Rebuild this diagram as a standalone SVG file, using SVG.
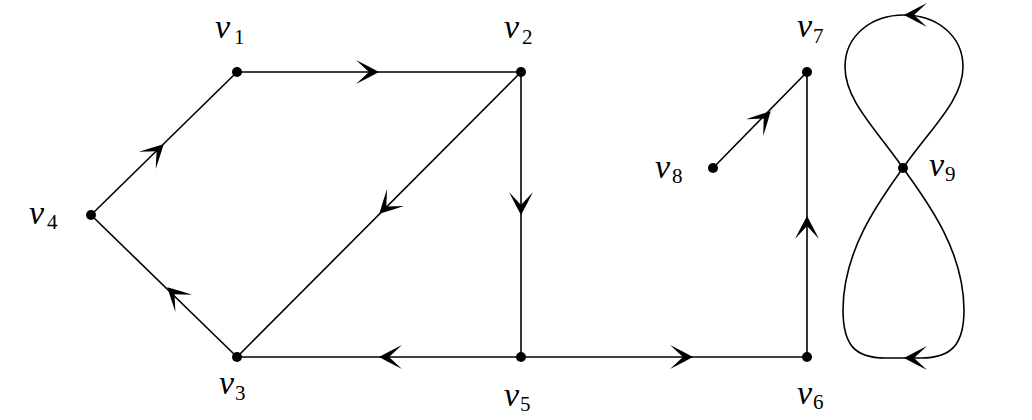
<svg xmlns="http://www.w3.org/2000/svg" xmlns:xlink="http://www.w3.org/1999/xlink" width="1032" height="420" viewBox="0 0 1032 420">
<style>
.e{fill:none;stroke:#000;stroke-width:1.6}
.dot{fill:#000}
.lbl{font-family:"Liberation Serif","Times New Roman",serif;font-style:italic;font-size:34px;fill:#000}
.sub{font-style:normal;font-size:21px}
</style>
<defs>
<path id="ah" d="M1,0 Q-10,-6 -22,-12 L-9,0 L-22,12 Q-10,6 1,0 Z" fill="#000"/>
</defs>
<rect width="1032" height="420" fill="#fff"/>
<g id="connectors">
<path class="e" d="M237,72 L521,72"/>
<path class="e" d="M521,72 L521,357"/>
<path class="e" d="M521,72 L237,357"/>
<path class="e" d="M521,357 L237,357"/>
<path class="e" d="M521,357 L807,357"/>
<path class="e" d="M807,357 L807,72"/>
<path class="e" d="M713,168 L807,72"/>
<path class="e" d="M91,215 L237,72"/>
<path class="e" d="M237,357 L91,215"/>
<path class="e" d="M903,168 C931,128 963,100 963,67 C963,35 936,15 904,15 C872,15 845,35 845,67 C845,100 875,128 903,168"/>
<path class="e" d="M903,168 C926,200 964,250 964,310 C964,345 951,358 921,358 L885,358 C855,358 843,345 843,310 C843,250 880,200 903,168"/>
<use xlink:href="#ah" transform="translate(378,72)"/>
<use xlink:href="#ah" transform="translate(521,214) rotate(90)"/>
<use xlink:href="#ah" transform="translate(380,213) rotate(134.9)"/>
<use xlink:href="#ah" transform="translate(380,357) rotate(180)"/>
<use xlink:href="#ah" transform="translate(692,357)"/>
<use xlink:href="#ah" transform="translate(807,217) rotate(-90)"/>
<use xlink:href="#ah" transform="translate(770,112) rotate(-45.6)"/>
<use xlink:href="#ah" transform="translate(163,145) rotate(-44.4)"/>
<use xlink:href="#ah" transform="translate(168,288) rotate(-135.8)"/>
<use xlink:href="#ah" transform="translate(905,15) rotate(180)"/>
<use xlink:href="#ah" transform="translate(905,358) rotate(180)"/>
</g>
<g id="v1"><circle class="dot" cx="237" cy="72" r="5"/><text class="lbl" x="215" y="38">v<tspan class="sub" x="234" y="44">1</tspan></text></g>
<g id="v2"><circle class="dot" cx="521" cy="72" r="5"/><text class="lbl" x="504" y="38">v<tspan class="sub" x="522" y="44">2</tspan></text></g>
<g id="v3"><circle class="dot" cx="237" cy="357" r="5"/><text class="lbl" x="219" y="394">v<tspan class="sub" x="235" y="400">3</tspan></text></g>
<g id="v4"><circle class="dot" cx="91" cy="215" r="5"/><text class="lbl" x="29" y="224">v<tspan class="sub" x="47" y="229">4</tspan></text></g>
<g id="v5"><circle class="dot" cx="521" cy="357" r="5"/><text class="lbl" x="504" y="406">v<tspan class="sub" x="520" y="411">5</tspan></text></g>
<g id="v6"><circle class="dot" cx="807" cy="357" r="5"/><text class="lbl" x="797" y="404">v<tspan class="sub" x="813" y="409">6</tspan></text></g>
<g id="v7"><circle class="dot" cx="807" cy="72" r="5"/><text class="lbl" x="797" y="37">v<tspan class="sub" x="813" y="43">7</tspan></text></g>
<g id="v8"><circle class="dot" cx="713" cy="168" r="5"/><text class="lbl" x="655" y="178">v<tspan class="sub" x="672" y="183">8</tspan></text></g>
<g id="v9"><circle class="dot" cx="903" cy="168" r="5"/><text class="lbl" x="929" y="176">v<tspan class="sub" x="945" y="181">9</tspan></text></g>
</svg>
